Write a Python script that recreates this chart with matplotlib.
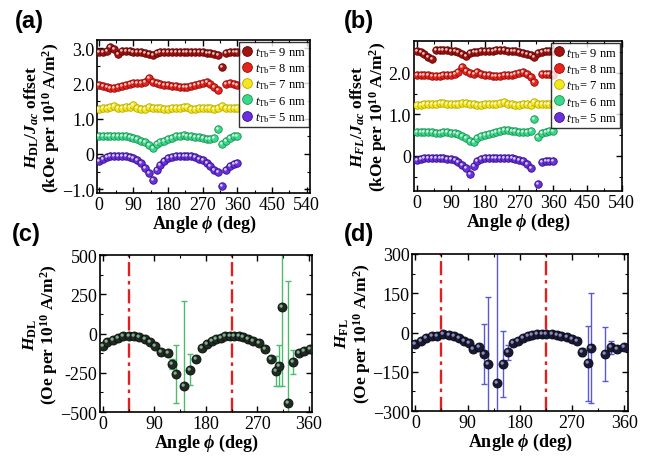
import numpy as np
import matplotlib
matplotlib.use('Agg')
import matplotlib.pyplot as plt
from matplotlib.path import Path
from matplotlib.ticker import MultipleLocator

plt.rcParams['font.family'] = 'serif'
plt.rcParams['font.serif'] = ['Liberation Serif', 'DejaVu Serif']
plt.rcParams['mathtext.fontset'] = 'custom'
plt.rcParams['mathtext.it'] = 'Liberation Serif:bold:italic'
plt.rcParams['mathtext.rm'] = 'Liberation Serif:bold'
plt.rcParams['mathtext.bf'] = 'Liberation Serif:bold'
plt.rcParams['mathtext.sf'] = 'Liberation Serif:italic'
plt.rcParams['mathtext.tt'] = 'Liberation Serif'

# angles for panels (a) and (b), 10 deg steps
phi_ab = np.arange(0, 361, 10)
labels_t = ['9', '8', '7', '6', '5']
colors = ['#a3120f', '#e8231c', '#f4e81a', '#38d98a', '#6a2fe0']
edges = ['#5a0505', '#8e0d08', '#b8a800', '#1d8e52', '#33137e']

# (a) H_DL / J_ac with offset (kOe per 1e10 A/m^2)
dl_9 = [2.88, 2.9, 2.93, 3.04, 2.96, 2.83, 2.93, 2.92, 2.91, 2.9, 2.9, 2.89, 2.86, 2.82, 2.79, 2.85, 2.88, 2.89,
        2.9, 2.9, 2.9, 2.9, 2.9, 2.9, 2.89, 2.89, 2.88, 2.88, 2.87, 2.85, 2.82, 2.79, 2.45, 2.85, 2.88, 2.9, 2.9]
dl_8 = [1.95, 1.92, 1.9, 1.88, 1.88, 1.9, 1.92, 1.95, 1.97, 2.0, 2.0, 2.02, 2.05, 2.15, 2.05, 2.0, 1.98, 1.95,
        1.95, 1.93, 1.92, 1.9, 1.9, 1.9, 1.92, 1.95, 1.98, 2.0, 2.05, 1.98, 1.9, 1.8, np.nan, 1.97, 2.0, 1.97, 1.95]
dl_7 = [1.28, 1.3, 1.3, 1.33, 1.36, 1.3, 1.3, 1.32, 1.32, 1.38, 1.3, 1.28, 1.28, 1.32, 1.3, 1.3, 1.3, 1.28,
        1.28, 1.3, 1.3, 1.3, 1.32, 1.32, 1.28, 1.27, 1.3, 1.3, 1.3, 1.3, 1.28, 1.3, 1.36, 1.3, 1.3, 1.3, 1.3]
dl_6 = [0.5, 0.5, 0.5, 0.5, 0.5, 0.5, 0.5, 0.5, 0.48, 0.45, 0.42, 0.38, 0.33, 0.25, 0.18, 0.28, 0.33, 0.38,
        0.42, 0.45, 0.5, 0.52, 0.55, 0.52, 0.5, 0.48, 0.47, 0.45, 0.43, 0.42, 0.45, 0.7, 0.28, 0.38, 0.45, 0.5, 0.52]
dl_5 = [-0.2, -0.15, -0.1, -0.07, -0.05, -0.05, -0.05, -0.07, -0.1, -0.12, -0.18, -0.27, -0.4, -0.55, -0.75, -0.45,
        -0.3, -0.2, -0.12, -0.08, -0.05, -0.05, -0.05, -0.05, -0.07, -0.1, -0.13, -0.18, -0.25, -0.35, -0.45, -0.5,
        -0.9, -0.45, -0.35, -0.28, -0.25]

# (b) H_FL / J_ac with offset
fl_9 = [2.52, 2.5, 2.45, 2.38, 2.34, 2.54, 2.55, 2.54, 2.54, 2.53, 2.52, 2.5, 2.45, 2.4, 2.48, 2.5, 2.5, 2.52,
        2.52, 2.53, 2.53, 2.54, 2.55, 2.54, 2.53, 2.52, 2.52, 2.5, 2.48, 2.45, 2.42, 2.38, 2.47, 2.5, 2.52, 2.52, 2.52]
fl_8 = [1.95, 1.95, 1.94, 1.94, 1.93, 1.93, 1.93, 1.94, 1.95, 1.96, 1.98, 2.02, 2.14, 2.05, 2.0, 1.98, 2.02, 1.97,
        1.95, 1.95, 1.93, 1.93, 1.93, 1.94, 1.95, 1.96, 1.98, 2.0, 2.03, 1.98, 1.9, 1.78, np.nan, 1.97, 1.98, 1.97, 1.96]
fl_7 = [1.22, 1.23, 1.24, 1.24, 1.25, 1.26, 1.28, 1.28, 1.26, 1.25, 1.24, 1.25, 1.27, 1.28, 1.25, 1.24, 1.23, 1.23,
        1.24, 1.24, 1.25, 1.25, 1.28, 1.3, 1.26, 1.24, 1.23, 1.23, 1.24, 1.24, 1.22, 1.3, 1.25, 1.24, 1.24, 1.24, 1.24]
fl_6 = [0.57, 0.57, 0.57, 0.57, 0.57, 0.56, 0.56, 0.57, 0.57, 0.56, 0.55, 0.52, 0.48, 0.42, 0.36, 0.33, 0.42, 0.47,
        0.5, 0.53, 0.55, 0.57, 0.6, 0.63, 0.62, 0.6, 0.59, 0.58, 0.57, 0.58, 0.6, 0.89, 0.45, 0.55, 0.58, 0.6, 0.6]
fl_5 = [-0.1, -0.08, -0.06, -0.05, -0.05, -0.05, -0.05, -0.06, -0.07, -0.08, -0.1, -0.15, -0.22, -0.3, -0.43, -0.25,
        -0.13, -0.08, -0.06, -0.05, -0.05, -0.04, -0.04, -0.04, -0.05, -0.06, -0.08, -0.1, -0.13, -0.2, -0.3, np.nan,
        -0.67, -0.15, -0.12, -0.12, -0.12]

# (c) H_DL (Oe per 1e10 A/m^2)
phi_c = [0, 8, 18, 27, 36, 45, 55, 64, 73, 82, 91, 101, 113, 121, 127, 142, 153, 163, 173, 182, 190, 198, 206,
         214, 222, 229, 237, 245, 254, 263, 272, 284, 293, 303, 308, 313, 324, 332, 343, 352, 362]
hdl = [-78, -52, -38, -25, -18, -15, -18, -24, -35, -52, -78, -120, -125, -194, -258, -336, -230, -162, -92, -67,
       -45, -35, -27, -18, -14, -12, -18, -24, -35, -45, -62, -95, -162, -236, -205, 173, -445, -180, -124, -113, -95]
hdl_err = [10, 10, 10, 10, 10, 10, 10, 10, 10, 10, 12, 15, 20, 30, 185, 545, 98, 20, 12, 10,
           10, 10, 10, 10, 10, 10, 10, 10, 10, 10, 12, 15, 20, 95, 130, 505, 781, 75, 15, 12, 10]

# (d) H_FL (Oe per 1e10 A/m^2)
phi_d = [0, 9, 18, 28, 38, 48, 58, 67, 76, 84, 92, 100, 109, 119, 125, 140, 151, 160, 168, 177, 186, 194, 202,
         210, 218, 226, 235, 244, 252, 261, 270, 278, 288, 298, 303, 327, 337, 348, 359]
hfl = [-44, -31, -22, -15, -15, -7, -10, -15, -22, -31, -40, -63, -57, -82, -120, -194, -120, -76, -40, -31,
       -22, -15, -10, -6, -6, -6, -6, -10, -15, -19, -25, -31, -76, -117, -60, -82, -57, -63, -57]
hfl_err = [8, 8, 8, 8, 8, 8, 8, 8, 8, 8, 8, 10, 12, 115, 255, 520, 125, 30, 10, 8,
           8, 8, 8, 8, 8, 8, 8, 8, 8, 8, 8, 10, 15, 143, 210, 102, 25, 12, 10]

# easy-axis guide lines
guide_phi = [45, 225]

# small offset circle used as the shine on the balls
circ = Path.unit_circle()
shine = Path(np.vstack([[-1, -1], [1, 1], circ.vertices * 0.36 + [-0.3, 0.3]]),
             [Path.MOVETO, Path.MOVETO] + list(circ.codes))


def balls(ax, x, y, col, edge, ms, label=None, glow='white'):
    ax.plot(x, y, 'o', ms=ms, mfc=col, mec=edge, mew=0.6, label=label, zorder=3)
    ax.plot(x, y, ls='none', marker=shine, ms=ms, mfc=glow, mec='none', alpha=0.75, zorder=4)


def frame(ax):
    ax.tick_params(direction='in', top=True, right=True, which='both', labelsize=13, pad=2)
    ax.tick_params(which='major', length=4, width=1)
    ax.tick_params(which='minor', length=2, width=0.8)
    for s in ax.spines.values():
        s.set_linewidth(1.2)


fig = plt.figure(figsize=(6.62, 4.6), dpi=100)
ax_a = fig.add_axes([0.147, 0.578, 0.322, 0.333])
ax_b = fig.add_axes([0.625, 0.583, 0.315, 0.326])
ax_c = fig.add_axes([0.151, 0.102, 0.321, 0.341])
ax_d = fig.add_axes([0.623, 0.104, 0.325, 0.342])

xlab = r'Angle $\phi$ (deg)'

for ax, series, lim, yl in [(ax_a, [dl_9, dl_8, dl_7, dl_6, dl_5], (-1.11, 3.23),
                             '$H_{\\rm DL}/J_{ac}$ offset\n(kOe per 10$^{10}$ A/m$^2$)'),
                            (ax_b, [fl_9, fl_8, fl_7, fl_6, fl_5], (-0.84, 2.77),
                             '$H_{FL}/J_{ac}$ offset\n(kOe per 10$^{10}$ A/m$^2$)')]:
    for vals, t, c, e in zip(series, labels_t, colors, edges):
        balls(ax, phi_ab, vals, c, e, 5.4, label=r'$\mathsf{t}_{\mathtt{Tb}}$= ' + t + ' nm')
    frame(ax)
    ax.set_ylim(*lim)
    ax.set_xticks([0, 90, 180, 270, 360, 450, 540])
    ax.xaxis.set_minor_locator(MultipleLocator(45))
    ax.yaxis.set_minor_locator(MultipleLocator(0.5))
    ax.set_xlabel(xlab, fontsize=13, fontweight='bold', labelpad=0)
    ax.set_ylabel(yl, fontsize=12.5, fontweight='bold', linespacing=0.95, labelpad=0)
    leg = ax.legend(loc='upper right', fontsize=9, frameon=True, fancybox=False, edgecolor='black',
                    handlelength=0.8, handletextpad=0.2, labelspacing=0.2, borderpad=0.25,
                    borderaxespad=0.15, markerscale=1.3)
    leg.get_frame().set_linewidth(1.0)

ax_a.set_xlim(-4, 550)
ax_a.set_yticks([-1, 0, 1, 2, 3])
ax_a.set_yticklabels(['\u22121.0', '0', '1.0', '2.0', '3.0'])
ax_b.set_xlim(-8, 542)
ax_b.set_yticks([0, 1, 2])
ax_b.set_yticklabels(['0', '1.0', '2.0'])

ax_c.errorbar(phi_c, hdl, yerr=hdl_err, fmt='none', ecolor='#4cbb6c', elinewidth=1, capsize=2, zorder=2)
balls(ax_c, phi_c, hdl, '#1f2a22', '#0a0f0b', 6.5, glow='#a8dcb6')
ax_c.set_ylim(-500, 500)
ax_c.set_yticks([-500, -250, 0, 250, 500])
ax_c.set_yticklabels(['\u2212500', '-250', '0', '250', '500'])
ax_c.yaxis.set_minor_locator(MultipleLocator(125))
ax_c.set_ylabel('$H_{\\rm DL}$\n(Oe per 10$^{10}$ A/m$^2$)', fontsize=12.5, fontweight='bold',
                linespacing=0.95, labelpad=0)

ax_d.errorbar(phi_d, hfl, yerr=hfl_err, fmt='none', ecolor='#5858d8', elinewidth=1, capsize=2, zorder=2)
balls(ax_d, phi_d, hfl, '#191933', '#08081a', 6.5, glow='#b4b8e8')
ax_d.set_ylim(-300, 300)
ax_d.set_yticks([-300, -150, 0, 150, 300])
ax_d.set_yticklabels(['\u2212300', '\u2212150', '0', '150', '300'])
ax_d.yaxis.set_minor_locator(MultipleLocator(75))
ax_d.set_ylabel('$H_{\\rm FL}$\n(Oe per 10$^{10}$ A/m$^2$)', fontsize=12.5, fontweight='bold',
                linespacing=0.95, labelpad=0)

for ax in (ax_c, ax_d):
    for g in guide_phi:
        ax.axvline(g, color='#e01f1f', lw=1.7, dashes=(6, 2, 1.5, 2), zorder=1)
    frame(ax)
    ax.set_xlim(-5, 366)
    ax.set_xticks([0, 90, 180, 270, 360])
    ax.xaxis.set_minor_locator(MultipleLocator(45))
    ax.set_xlabel(xlab, fontsize=13, fontweight='bold', labelpad=0)

for txt, x, y in [('(a)', 0.022, 0.954), ('(b)', 0.519, 0.954), ('(c)', 0.018, 0.49), ('(d)', 0.519, 0.49)]:
    fig.text(x, y, txt, fontsize=17, fontweight='bold', family='Liberation Sans', va='center', ha='left')

fig.savefig('out.png', dpi=100)
